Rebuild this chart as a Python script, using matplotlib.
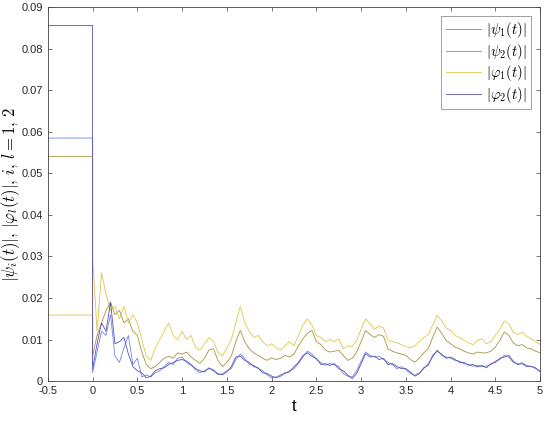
import numpy as np
import matplotlib
matplotlib.use("Agg")
import matplotlib.pyplot as plt

plt.rcParams['mathtext.fontset'] = 'cm'
plt.rcParams['font.family'] = ['Liberation Sans', 'DejaVu Sans']

# sample times after the switch at t = 0 (step 0.05)
t_post = np.linspace(0, 5, 101)
t_pre = [-0.5, 0.0]

# values held for t < 0
psi1_pre = 0.0585
psi2_pre = 0.0541
phi1_pre = 0.0159
phi2_pre = 0.0856

psi1 = [0.002, 0.007, 0.012, 0.011, 0.016, 0.006, 0.0045, 0.008, 0.011, 0.004,
        0.0055, 0.001, 0.0015, 0.001, 0.002, 0.0025, 0.0035, 0.0045, 0.004, 0.0055,
        0.0058, 0.0045, 0.0038, 0.0028, 0.002, 0.0025, 0.003, 0.0028, 0.0015, 0.0018,
        0.0025, 0.003, 0.0052, 0.0065, 0.0055, 0.004, 0.0038, 0.003, 0.0025, 0.0015,
        0.0008, 0.001, 0.0015, 0.0018, 0.0025, 0.003, 0.0042, 0.0058, 0.0072, 0.0065,
        0.0052, 0.0045, 0.0038, 0.0042, 0.004, 0.0035, 0.0018, 0.0012, 0.001, 0.0025,
        0.0048, 0.007, 0.0062, 0.0058, 0.006, 0.0052, 0.0045, 0.004, 0.003, 0.0035,
        0.0028, 0.0018, 0.0014, 0.002, 0.003, 0.0042, 0.0058, 0.0075, 0.0062, 0.0058,
        0.0055, 0.005, 0.0048, 0.0042, 0.004, 0.0036, 0.0038, 0.0035, 0.0036, 0.004,
        0.0048, 0.0052, 0.0062, 0.0058, 0.0045, 0.0042, 0.0044, 0.0038, 0.0035, 0.003,
        0.0025]

psi2 = [0.006, 0.011, 0.014, 0.017, 0.019, 0.016, 0.017, 0.014, 0.015, 0.012,
        0.011, 0.007, 0.004, 0.003, 0.0035, 0.0045, 0.0055, 0.006, 0.0055, 0.0068,
        0.0065, 0.007, 0.0058, 0.005, 0.0043, 0.0055, 0.0075, 0.0078, 0.005, 0.0035,
        0.0045, 0.006, 0.0095, 0.0122, 0.0095, 0.0078, 0.0068, 0.0062, 0.0055, 0.005,
        0.0056, 0.0052, 0.0055, 0.0062, 0.0058, 0.0065, 0.0085, 0.0102, 0.0115, 0.0122,
        0.0095, 0.0088, 0.0075, 0.007, 0.0072, 0.0074, 0.0062, 0.005, 0.0055, 0.007,
        0.0095, 0.0122, 0.0112, 0.0105, 0.0112, 0.0108, 0.0078, 0.0072, 0.0068, 0.0065,
        0.0062, 0.0052, 0.0046, 0.0055, 0.0068, 0.0078, 0.0105, 0.013, 0.0115, 0.0098,
        0.009, 0.0082, 0.0078, 0.0072, 0.0068, 0.0065, 0.007, 0.0068, 0.0068, 0.0072,
        0.0082, 0.0098, 0.0118, 0.011, 0.0092, 0.0085, 0.0088, 0.008, 0.0078, 0.0072,
        0.0068]

phi1 = [0.030, 0.012, 0.026, 0.021, 0.017, 0.018, 0.015, 0.018, 0.014, 0.016,
        0.014, 0.010, 0.006, 0.005, 0.008, 0.010, 0.012, 0.014, 0.011, 0.010,
        0.012, 0.010, 0.011, 0.008, 0.0075, 0.009, 0.0105, 0.0095, 0.007, 0.006,
        0.008, 0.010, 0.014, 0.018, 0.014, 0.012, 0.0105, 0.011, 0.0095, 0.0085,
        0.009, 0.008, 0.0075, 0.0085, 0.0095, 0.0085, 0.011, 0.0135, 0.015, 0.0135,
        0.011, 0.0105, 0.0095, 0.010, 0.0095, 0.0102, 0.0078, 0.0085, 0.0083, 0.0098,
        0.0125, 0.015, 0.0138, 0.0125, 0.0132, 0.0128, 0.0098, 0.0095, 0.0092, 0.0088,
        0.0083, 0.008, 0.0085, 0.0095, 0.0105, 0.0112, 0.0135, 0.0158, 0.0145, 0.0128,
        0.0122, 0.011, 0.0105, 0.0098, 0.0092, 0.0088, 0.0098, 0.0102, 0.009, 0.0095,
        0.011, 0.0125, 0.0145, 0.0138, 0.0118, 0.0112, 0.0118, 0.0108, 0.0102, 0.0095,
        0.0088]

phi2 = [0.003, 0.009, 0.014, 0.012, 0.019, 0.009, 0.0095, 0.0105, 0.0065, 0.0035,
        0.0025, 0.002, 0.0008, 0.0012, 0.0025, 0.003, 0.0032, 0.004, 0.0045, 0.005,
        0.0052, 0.0048, 0.004, 0.003, 0.0025, 0.0022, 0.0032, 0.0025, 0.0018, 0.0015,
        0.0022, 0.0035, 0.0058, 0.006, 0.005, 0.0045, 0.0035, 0.0032, 0.002, 0.0018,
        0.0012, 0.0008, 0.0012, 0.002, 0.0022, 0.0035, 0.0045, 0.0062, 0.0068, 0.006,
        0.0055, 0.004, 0.0042, 0.0038, 0.0042, 0.003, 0.0025, 0.0015, 0.0006, 0.0018,
        0.0042, 0.0066, 0.0058, 0.006, 0.0052, 0.0055, 0.004, 0.0042, 0.0035, 0.003,
        0.003, 0.0022, 0.0012, 0.0018, 0.0032, 0.0038, 0.0062, 0.0072, 0.0065, 0.0055,
        0.0058, 0.0052, 0.0045, 0.0045, 0.0038, 0.004, 0.0034, 0.0038, 0.0032, 0.0042,
        0.0045, 0.0055, 0.0058, 0.0062, 0.0048, 0.004, 0.0042, 0.0035, 0.0036, 0.0032,
        0.0022]

labels = [r'$|\psi_1(t)|$', r'$|\psi_2(t)|$', r'$|\varphi_1(t)|$', r'$|\varphi_2(t)|$']
colors = ['#6f86d8', '#a8923e', '#e2c648', '#5c50b4']

fig = plt.figure(figsize=(5.5, 4.23), dpi=100)
ax = fig.add_axes([0.087, 0.099, 0.895, 0.884])

series = [(psi1_pre, psi1), (psi2_pre, psi2), (phi1_pre, phi1), (phi2_pre, phi2)]
for (pre, post), c, lab in zip(series, colors, labels):
    x = np.concatenate([t_pre, t_post])
    y = np.concatenate([[pre, pre], post])
    ax.plot(x, y, color=c, lw=0.6, label=lab)

ax.set_xlim(-0.5, 5)
ax.set_ylim(0, 0.09)
ax.set_xticks(np.arange(-0.5, 5.01, 0.5))
ax.set_xticklabels(['-0.5', '0', '0.5', '1', '1.5', '2', '2.5', '3', '3.5', '4', '4.5', '5'])
ax.set_yticks(np.arange(0, 0.091, 0.01))
ax.set_yticklabels(['0', '0.01', '0.02', '0.03', '0.04', '0.05', '0.06', '0.07', '0.08', '0.09'])
ax.tick_params(direction='in', top=True, right=True, labelsize=8, length=3,
               width=0.5, colors='#404040', labelcolor='#262626')
for s in ax.spines.values():
    s.set_linewidth(0.6)
    s.set_color('#404040')

ax.set_xlabel('t', fontsize=12, labelpad=2)
ax.set_ylabel(r'$|\psi_i(t)|,\,|\varphi_l(t)|,\,i,\,l=1,\,2$', fontsize=12)
ax.yaxis.set_label_coords(-0.052, 0.5)

leg = ax.legend(loc='upper right', fontsize=10.5, fancybox=False, framealpha=1,
                edgecolor='#909090', handlelength=2.4, borderpad=0.3,
                labelspacing=0.1, handletextpad=0.4, borderaxespad=0.6)
leg.get_frame().set_linewidth(0.6)

fig.savefig('out.png', dpi=100)
